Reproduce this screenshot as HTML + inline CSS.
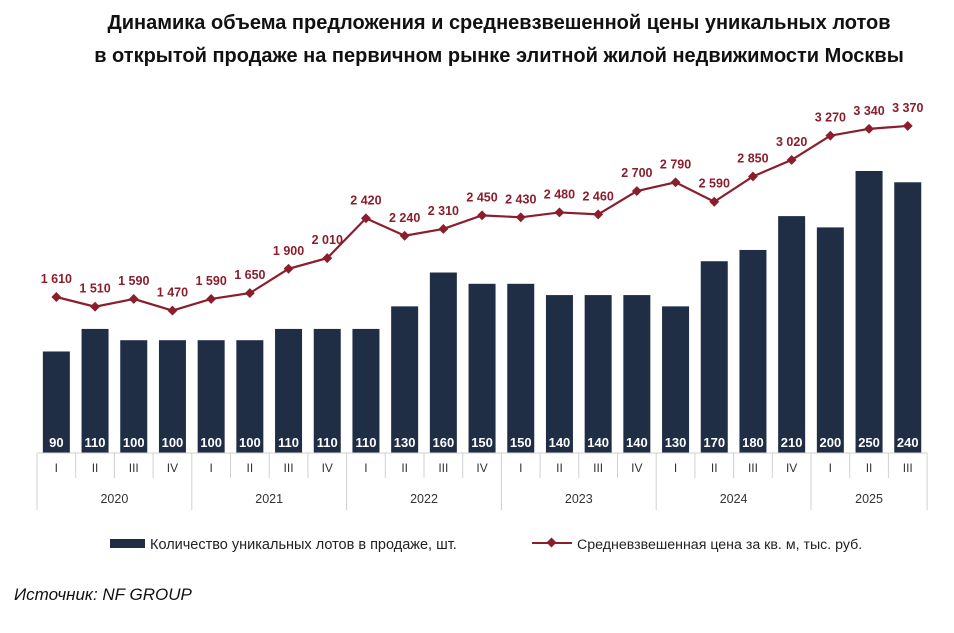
<!DOCTYPE html>
<html><head><meta charset="utf-8"><style>
body{margin:0;background:#fff;width:954px;height:628px;overflow:hidden;font-family:"Liberation Sans",sans-serif}
</style></head><body>
<svg width="954" height="628" xmlns="http://www.w3.org/2000/svg">
<text x="499" y="29" text-anchor="middle" font-size="20" font-weight="bold" fill="#111">Динамика объема предложения и средневзвешенной цены уникальных лотов</text>
<text x="499" y="62" text-anchor="middle" font-size="20" font-weight="bold" fill="#111">в открытой продаже на первичном рынке элитной жилой недвижимости Москвы</text>
<g id="bars"></g><g id="axis"></g><g id="line"></g>
<rect x="110" y="539" width="35" height="9" fill="#1f2d45"/>
<text x="150" y="549" font-size="14.5" fill="#222">Количество уникальных лотов в продаже, шт.</text>
<line x1="532" y1="543" x2="572" y2="543" stroke="#8b1e2d" stroke-width="2"/>
<rect x="548" y="539" width="7" height="7" fill="#8b1e2d" transform="rotate(45 551.5 542.5)"/>
<text x="577" y="549" font-size="14.2" fill="#222">Средневзвешенная цена за кв. м, тыс. руб.</text>
<text x="14" y="600" font-size="17" font-style="italic" fill="#111">Источник: NF GROUP</text>
</svg>
<script>
const quarters=["I","II","III","IV","I","II","III","IV","I","II","III","IV","I","II","III","IV","I","II","III","IV","I","II","III"];
const years=["2020","2021","2022","2023","2024","2025"];
const counts=[90,110,100,100,100,100,110,110,110,130,160,150,150,140,140,140,130,170,180,210,200,250,240];
const prices=[1610,1510,1590,1470,1590,1650,1900,2010,2420,2240,2310,2450,2430,2480,2460,2700,2790,2590,2850,3020,3270,3340,3370];
const NS="http://www.w3.org/2000/svg";
const x0=37,cw=38.7,base=453;
const xc=i=>x0+cw*(i+0.5);
const yb=v=>base-v*1.128;
const yl=v=>297-(v-1610)*0.0972;
function mk(t,a,p,txt){const e=document.createElementNS(NS,t);for(const k in a)e.setAttribute(k,a[k]);if(txt!==undefined)e.textContent=txt;p.appendChild(e);return e;}
const gb=document.getElementById('bars'),ga=document.getElementById('axis'),gl=document.getElementById('line');
counts.forEach((v,i)=>{
 const r=mk('rect',{x:xc(i)-13.5,y:yb(v),width:27,height:base-yb(v),fill:'#1f2d45'},gb);
 
 
 const t=mk('text',{x:xc(i),y:base-6,'text-anchor':'middle','font-size':13,'font-weight':'bold',fill:'#fff'},gb,String(v));
 
 
});
quarters.forEach((q,i)=>{
 const t=mk('text',{x:xc(i),y:472,'text-anchor':'middle','font-size':12,fill:'#333'},ga,q);
 
 
});
for(let i=0;i<=quarters.length;i++){
 const yr=(i%4===0)||i===quarters.length;
 const l=mk('line',{x1:x0+cw*i,y1:base,x2:x0+cw*i,y2:yr?510:478,stroke:'#d0d0d0','stroke-width':1},ga);
 
 
}
const al=mk('line',{x1:x0,y1:base,x2:x0+cw*quarters.length,y2:base,stroke:'#d0d0d0'},ga);


years.forEach((y,j)=>{
 const s=j*4,e=Math.min(s+4,quarters.length);
 const t=mk('text',{x:x0+cw*(s+e)/2,y:503,'text-anchor':'middle','font-size':12.5,fill:'#333'},ga,y);
 
 
});
const pl=mk('polyline',{points:prices.map((v,i)=>xc(i)+','+yl(v)).join(' '),fill:'none',stroke:'#8b1e2d','stroke-width':2.2},gl);


prices.forEach((v,i)=>{
 const m=mk('rect',{x:xc(i)-3.5,y:yl(v)-3.5,width:7,height:7,fill:'#8b1e2d',transform:`rotate(45 ${xc(i)} ${yl(v)})`},gl);
 
 
 const t=mk('text',{x:xc(i),y:yl(v)-14,'text-anchor':'middle','font-size':12.5,'font-weight':'bold',fill:'#8b1e2d'},gl,String(v).replace(/\B(?=(\d{3})+$)/,' '));
 
 
});
</script>
</body></html>
